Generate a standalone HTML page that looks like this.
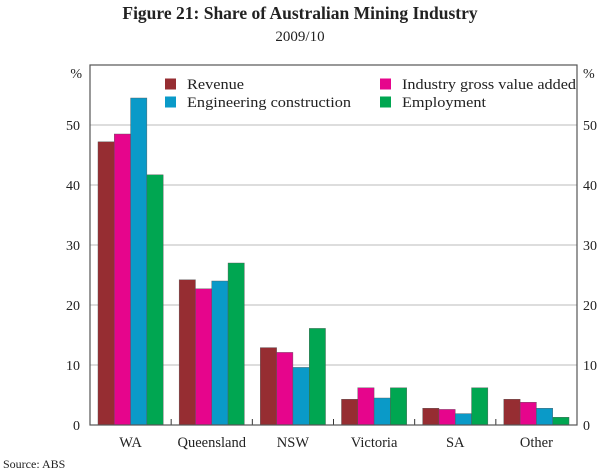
<!DOCTYPE html>
<html><head><meta charset="utf-8"><style>
body{margin:0;background:#fff;width:600px;height:471px;overflow:hidden}
text{font-family:"Liberation Serif",serif;fill:#222}
</style></head><body>
<svg id="c" width="600" height="471">
<text x="300" y="19" text-anchor="middle" font-size="17.5" font-weight="bold">Figure 21: Share of Australian Mining Industry</text>
<text x="300" y="41" text-anchor="middle" font-size="15">2009/10</text>
<text x="3" y="468" font-size="12">Source:  ABS</text>
<g id="g"></g>
</svg>
<script>
const categories=["WA","Queensland","NSW","Victoria","SA","Other"];
const seriesNames=["Revenue","Industry gross value added","Engineering construction","Employment"];
const revenue=[47.2,24.2,12.9,4.3,2.8,4.3];
const gva=[48.5,22.7,12.1,6.2,2.6,3.8];
const engineering=[54.5,24.0,9.6,4.5,1.9,2.8];
const employment=[41.7,27.0,16.1,6.2,6.2,1.3];
const yTicks=[0,10,20,30,40,50];
const colors=["#962d32","#e6058c","#0a9ac8","#00a651"];
const L=90,R=577,T=65,B=425,yMax=60;
const ns="http://www.w3.org/2000/svg",g=document.getElementById('g');
const y=v=>B-(v/yMax)*(B-T);
const gw=(R-L)/categories.length,bw=16.3;
function mk(t,a){const e=document.createElementNS(ns,t);for(const k in a)e.setAttribute(k,a[k]);g.appendChild(e);return e;}
yTicks.forEach(v=>{
 if(v>0){const l=mk('line',{x1:L,x2:R,y1:y(v),y2:y(v),stroke:'#bbb','stroke-width':1});
 
 }
 const a=mk('text',{x:L-10,y:y(v)+5,'text-anchor':'end','font-size':14});a.textContent=v;
 
 
 const b=mk('text',{x:R+6,y:y(v)+5,'font-size':14});b.textContent=v;
 
 
});
const pl=mk('text',{x:L-8,y:T+13,'text-anchor':'end','font-size':14});pl.textContent='%';


const pr=mk('text',{x:R+6,y:T+13,'font-size':14});pr.textContent='%';


const data=[revenue,gva,engineering,employment];
categories.forEach((c,i)=>{
 const cx=L+gw*(i+0.5);
 data.forEach((s,j)=>{
  const r=mk('rect',{x:cx-2*bw+j*bw,y:y(s[i]),width:bw,height:B-y(s[i]),fill:colors[j],stroke:'#555','stroke-width':0.4});
  
  
 });
 const t=mk('text',{x:cx,y:B+22,'text-anchor':'middle','font-size':14.5});t.textContent=c;
 
 
 if(i>0){const tk=mk('line',{x1:L+gw*i,x2:L+gw*i,y1:B,y2:B-6,stroke:'#333','stroke-width':1});
 
 }
});
const fr=mk('rect',{x:L,y:T,width:R-L,height:B-T,fill:'none',stroke:'#555','stroke-width':1.2});


const lp=[[165,84],[380,84],[165,102],[380,102]];
const lw=[57,174,164,84];
seriesNames.forEach((n,j)=>{
 const s=mk('rect',{x:lp[j][0],y:lp[j][1]-5.5,width:11,height:11,fill:colors[j]});
 
 
 const t=mk('text',{x:lp[j][0]+22,y:lp[j][1]+5,'font-size':15,textLength:lw[j],lengthAdjust:'spacingAndGlyphs'});t.textContent=n;
 
 
});
</script>
</body></html>
